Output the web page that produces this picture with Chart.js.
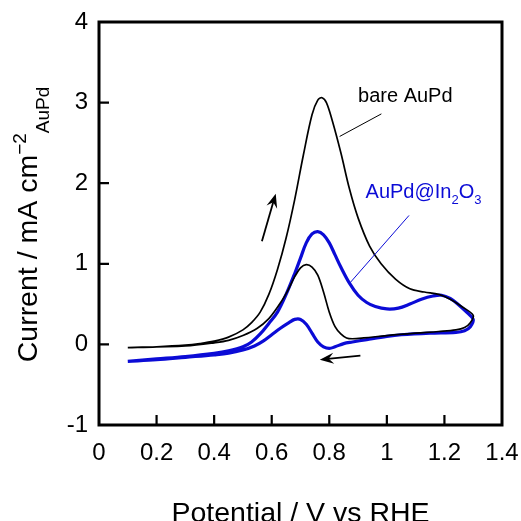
<!DOCTYPE html>
<html>
<head>
<meta charset="utf-8">
<script src="https://cdn.jsdelivr.net/npm/chart.js@4.4.1/dist/chart.umd.min.js"></script>
<style>
  html, body { margin: 0; padding: 0; background: #fff; overflow: hidden; }
  canvas { display: block; }
</style>
</head>
<body>
<canvas id="chart" width="521" height="521"></canvas>
<script>
// ── Voltammograms (V vs RHE / mA cm-2) ──

// bare AuPd, forward (anodic) scan
const bareFwdV = [0.10, 0.20, 0.30, 0.35, 0.40, 0.45, 0.50, 0.53, 0.56, 0.59, 0.62, 0.65, 0.68, 0.71, 0.74, 0.76, 0.775, 0.79, 0.81, 0.84, 0.87, 0.90, 0.94, 0.98, 1.03, 1.08, 1.13, 1.18, 1.22, 1.26, 1.30];
const bareFwdI = [-0.04, -0.03, -0.01, 0.01, 0.04, 0.09, 0.18, 0.27, 0.40, 0.62, 0.93, 1.32, 1.80, 2.35, 2.85, 3.03, 3.06, 3.00, 2.78, 2.38, 1.93, 1.57, 1.22, 1.00, 0.81, 0.69, 0.65, 0.62, 0.56, 0.47, 0.36];
// bare AuPd, reverse scan
const bareRevV = [1.29, 1.27, 1.24, 1.18, 1.10, 1.00, 0.92, 0.88, 0.86, 0.84, 0.82, 0.80, 0.78, 0.76, 0.74, 0.72, 0.70, 0.68, 0.65, 0.62, 0.59, 0.55, 0.50, 0.45, 0.40, 0.30, 0.20, 0.10];
const bareRevI = [0.27, 0.21, 0.18, 0.16, 0.14, 0.11, 0.08, 0.07, 0.08, 0.13, 0.22, 0.40, 0.65, 0.86, 0.96, 0.99, 0.95, 0.84, 0.63, 0.46, 0.32, 0.20, 0.11, 0.05, 0.02, -0.02, -0.03, -0.04];

// AuPd@In2O3, forward scan
const inFwdV = [0.10, 0.20, 0.30, 0.40, 0.45, 0.50, 0.53, 0.56, 0.59, 0.62, 0.65, 0.68, 0.70, 0.72, 0.74, 0.76, 0.78, 0.80, 0.82, 0.84, 0.87, 0.90, 0.93, 0.96, 1.00, 1.04, 1.08, 1.12, 1.16, 1.19, 1.22, 1.25, 1.28, 1.30];
const inFwdI = [-0.21, -0.18, -0.15, -0.11, -0.08, -0.03, 0.03, 0.13, 0.26, 0.40, 0.62, 0.88, 1.07, 1.26, 1.37, 1.40, 1.36, 1.26, 1.11, 0.96, 0.76, 0.61, 0.52, 0.47, 0.44, 0.45, 0.50, 0.56, 0.60, 0.61, 0.57, 0.49, 0.39, 0.31];
// AuPd@In2O3, reverse scan
const inRevV = [1.29, 1.27, 1.24, 1.15, 1.05, 1.00, 0.93, 0.88, 0.85, 0.82, 0.80, 0.78, 0.76, 0.74, 0.72, 0.70, 0.68, 0.66, 0.63, 0.60, 0.57, 0.54, 0.50, 0.45, 0.40, 0.30, 0.20, 0.10];
const inRevI = [0.22, 0.17, 0.15, 0.14, 0.12, 0.10, 0.06, 0.03, 0.01, -0.03, -0.05, -0.03, 0.03, 0.14, 0.25, 0.31, 0.31, 0.27, 0.20, 0.12, 0.04, -0.02, -0.07, -0.11, -0.13, -0.16, -0.19, -0.21];

// ── Axes ──
const xTicks = [0, 0.2, 0.4, 0.6, 0.8, 1, 1.2, 1.4];
const yTicks = [-1, 0, 1, 2, 3, 4];

const FONT  = '"Liberation Sans", Arial, sans-serif';
const BLUE  = '#0b0bd6';

// label / arrow anchors, in data units
const notes = {
  bareText : { x: 0.90,  y: 3.01 },
  bareLine : [{ x: 0.981, y: 2.86 }, { x: 0.836, y: 2.58 }],
  inText   : { x: 0.926, y: 1.82 },
  inLine   : [{ x: 1.077, y: 1.60 }, { x: 0.871, y: 0.76 }],
  upArrow  : [{ x: 0.566, y: 1.28 }, { x: 0.614, y: 1.87 }],
  backArrow: [{ x: 0.908, y: -0.14 }, { x: 0.767, y: -0.19 }]
};

const pts = (v, i) => v.map((x, k) => ({ x, y: i[k] }));

function arrow(ctx, x1, y1, x2, y2) {
  const a = Math.atan2(y2 - y1, x2 - x1);
  ctx.beginPath();
  ctx.moveTo(x1, y1);
  ctx.lineTo(x2 - 8 * Math.cos(a), y2 - 8 * Math.sin(a));
  ctx.stroke();
  ctx.save();
  ctx.translate(x2, y2);
  ctx.rotate(a);
  ctx.beginPath();
  ctx.moveTo(0, 0);
  ctx.lineTo(-14, -5.5);
  ctx.lineTo(-9, 0);
  ctx.lineTo(-14, 5.5);
  ctx.closePath();
  ctx.fill();
  ctx.restore();
}

// text made of pieces with their own size and baseline shift
function richText(ctx, parts, x, y) {
  let cx = x;
  parts.forEach(p => {
    ctx.font = p.size + 'px ' + FONT;
    ctx.fillText(p.t, cx, y + (p.dy || 0));
    cx += ctx.measureText(p.t).width;
  });
}
function richWidth(ctx, parts) {
  return parts.reduce((w, p) => {
    ctx.font = p.size + 'px ' + FONT;
    return w + ctx.measureText(p.t).width;
  }, 0);
}

// frame, inward ticks, axis titles and annotations
const decor = {
  id: 'decor',
  afterDraw(chart) {
    const { ctx, chartArea: a, scales: { x, y } } = chart;
    const X = v => x.getPixelForValue(v);
    const Y = v => y.getPixelForValue(v);
    ctx.save();

    // ticks pointing into the plot
    ctx.strokeStyle = '#000';
    ctx.lineWidth = 2.2;
    ctx.beginPath();
    xTicks.slice(1, -1).forEach(v => { ctx.moveTo(X(v), a.bottom); ctx.lineTo(X(v), a.bottom - 10); });
    yTicks.slice(1, -1).forEach(v => { ctx.moveTo(a.left, Y(v)); ctx.lineTo(a.left + 10, Y(v)); });
    ctx.stroke();

    ctx.lineWidth = 3;
    ctx.strokeRect(a.left, a.top, a.right - a.left, a.bottom - a.top);

    // axis titles
    ctx.fillStyle = '#000';
    ctx.textBaseline = 'alphabetic';
    ctx.textAlign = 'center';
    ctx.font = '28.5px ' + FONT;
    ctx.fillText('Potential / V vs RHE', (a.left + a.right) / 2, 522);

    ctx.textAlign = 'left';
    const yTitle = [
      { t: 'Current / mA cm', size: 28.5 },
      { t: '\u22122', size: 19, dy: -11 },
      { t: 'AuPd', size: 19, dy: 12 }
    ];
    ctx.save();
    ctx.translate(37, (a.top + a.bottom) / 2 + 1);
    ctx.rotate(-Math.PI / 2);
    richText(ctx, yTitle, -richWidth(ctx, yTitle) / 2, 0);
    ctx.restore();

    // annotations
    ctx.font = '20px ' + FONT;
    ctx.fillText('bare AuPd', X(notes.bareText.x), Y(notes.bareText.y));
    ctx.lineWidth = 1;
    ctx.beginPath();
    ctx.moveTo(X(notes.bareLine[0].x), Y(notes.bareLine[0].y));
    ctx.lineTo(X(notes.bareLine[1].x), Y(notes.bareLine[1].y));
    ctx.stroke();

    ctx.fillStyle = BLUE;
    ctx.strokeStyle = BLUE;
    richText(ctx, [
      { t: 'AuPd@In', size: 20 },
      { t: '2', size: 13, dy: 6 },
      { t: 'O', size: 20 },
      { t: '3', size: 13, dy: 6 }
    ], X(notes.inText.x), Y(notes.inText.y));
    ctx.beginPath();
    ctx.moveTo(X(notes.inLine[0].x), Y(notes.inLine[0].y));
    ctx.lineTo(X(notes.inLine[1].x), Y(notes.inLine[1].y));
    ctx.stroke();

    ctx.fillStyle = '#000';
    ctx.strokeStyle = '#000';
    ctx.lineWidth = 1.8;
    [notes.upArrow, notes.backArrow].forEach(p =>
      arrow(ctx, X(p[0].x), Y(p[0].y), X(p[1].x), Y(p[1].y)));

    ctx.restore();
  }
};

const tickFont = { family: FONT, size: 24 };

// keep the plot box fixed: no extra room for labels sticking out at the ends
const fixX = s => { s.height = 96; s.paddingLeft = 0; s.paddingRight = 0; };
const fixY = s => { s.width = 99; s.paddingTop = 0; s.paddingBottom = 0; };

new Chart(document.getElementById('chart'), {
  type: 'scatter',
  data: {
    datasets: [
      {
        label      : 'bare AuPd',
        data       : pts(bareFwdV.concat(bareRevV), bareFwdI.concat(bareRevI)),
        showLine   : true,
        borderColor: '#000',
        borderWidth: 1.7,
        pointRadius: 0,
        tension    : 0.35
      },
      {
        label      : 'AuPd@In2O3',
        data       : pts(inFwdV.concat(inRevV), inFwdI.concat(inRevI)),
        showLine   : true,
        borderColor: BLUE,
        borderWidth: 3.2,
        pointRadius: 0,
        tension    : 0.35
      }
    ]
  },
  options: {
    responsive         : false,
    animation          : false,
    devicePixelRatio   : 1,
    layout : { padding: { top: 22, right: 19, left: 0, bottom: 0 } },
    plugins: { legend: { display: false }, tooltip: { enabled: false } },
    scales : {
      x: {
        type  : 'linear',
        min   : 0,
        max   : 1.4,
        grid  : { display: false, drawTicks: false },
        border: { display: false },
        afterBuildTicks: s => { s.ticks = xTicks.map(v => ({ value: v })); },
        afterFit: fixX,
        ticks : { font: tickFont, color: '#000', padding: 14, maxRotation: 0, autoSkip: false,
                  callback: v => String(v) }
      },
      y: {
        type  : 'linear',
        min   : -1,
        max   : 4,
        grid  : { display: false, drawTicks: false },
        border: { display: false },
        afterBuildTicks: s => { s.ticks = yTicks.map(v => ({ value: v })); },
        afterFit: fixY,
        ticks : { font: tickFont, color: '#000', padding: 11, autoSkip: false,
                  callback: v => String(v) }
      }
    }
  },
  plugins: [decor]
});
</script>
</body>
</html>
